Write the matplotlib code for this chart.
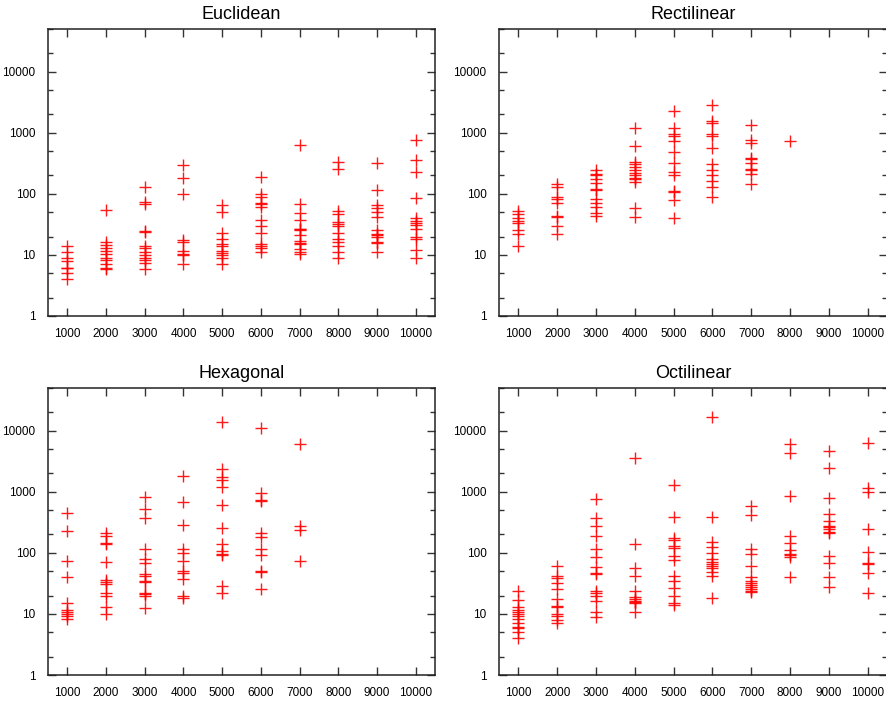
import matplotlib
matplotlib.use("Agg")
import matplotlib.pyplot as plt
from matplotlib.ticker import FixedLocator, NullFormatter

plt.rcParams['font.family'] = ['Liberation Sans', 'DejaVu Sans']

sizes = [1000, 2000, 3000, 4000, 5000, 6000, 7000, 8000, 9000, 10000]

# one list of run values per problem size (missing sizes = no runs)
euclidean = [
    [14, 11, 9, 8, 6, 6, 5, 4],
    [54, 16.5, 14.5, 13, 11.5, 10.5, 9, 8.3, 7, 6, 5.8],
    [128, 73, 68, 24.5, 23.5, 14, 13, 11, 10, 9, 8.2, 7.3, 5.8],
    [300, 180, 100, 17.5, 16, 11.5, 10.5, 10, 7],
    [66, 50, 22.5, 18, 15, 14, 11.5, 10.8, 9.8, 9, 7],
    [188, 100, 88, 72, 68, 62, 38, 30, 23, 15, 14, 13, 11],
    [620, 69, 49, 37, 27, 26.5, 25.5, 21, 17, 15.5, 15, 12.5, 11, 10.5],
    [330, 255, 52, 46, 34, 32, 30, 22.5, 18, 16, 14, 11, 9],
    [315, 115, 66, 58, 50, 42, 25.5, 22, 21.5, 20, 16, 15.5, 11],
    [750, 365, 225, 85, 40, 36, 33, 31, 27, 20, 18, 12, 8.8],
]

rectilinear = [
    [52, 47, 40, 36, 33, 25.5, 22, 14],
    [147, 131, 90, 81, 70, 44, 42, 30, 22],
    [245, 210, 200, 178, 148, 121, 115, 81, 72, 62, 49, 44],
    [1200, 600, 335, 305, 280, 245, 220, 205, 185, 172, 158, 59, 41],
    [2250, 1200, 960, 900, 740, 490, 320, 228, 205, 113, 108, 79, 40],
    [2830, 1550, 1420, 940, 890, 560, 305, 250, 200, 162, 131, 88],
    [1330, 760, 685, 390, 370, 320, 252, 245, 210, 143],
    [730],
    [],
    [],
]

hexagonal = [
    [455, 230, 74, 40, 15, 11.5, 10.8, 10, 9.3, 8.2],
    [215, 190, 145, 140, 72, 36, 33, 30.5, 22, 19.5, 13, 10],
    [830, 515, 370, 114, 80, 69, 45, 42, 35, 33, 22, 21, 19.5, 12.4],
    [1800, 670, 285, 116, 98, 74, 51, 47, 37, 20, 18],
    [13700, 2330, 1770, 1560, 1180, 610, 260, 140, 109, 96, 91, 28.5, 22],
    [11000, 940, 735, 710, 210, 180, 114, 91, 50, 48, 25.5],
    [6000, 270, 237, 73],
    [],
    [],
    [],
]

octilinear = [
    [24, 17, 13, 11.5, 10.8, 10, 9.2, 8.4, 7, 6, 5.9, 5, 4],
    [62, 42, 39, 32, 25.5, 17.5, 13.7, 12.9, 10, 9.2, 8, 7.2],
    [750, 375, 270, 190, 117, 85, 58, 47.5, 44.5, 24, 22, 20, 16, 10.8, 8.8],
    [3570, 140, 57, 41, 24, 18.7, 17.3, 16.2, 15.8, 15, 10.9],
    [1290, 390, 172, 165, 130, 119, 89, 77, 41, 35, 27, 20, 15.3, 14.2],
    [16500, 390, 150, 123, 98, 78, 72, 66, 61, 57, 49, 42, 18],
    [585, 410, 114, 96, 60, 40, 34, 32, 30, 28, 26, 24, 22.5],
    [6000, 4250, 850, 190, 145, 111, 95, 91, 85, 40],
    [4600, 2420, 780, 430, 335, 275, 262, 243, 222, 214, 89, 67, 40, 28],
    [6200, 1140, 1000, 250, 105, 69, 66, 46, 22],
]

titles = ["Euclidean", "Rectilinear", "Hexagonal", "Octilinear"]
panels = [euclidean, rectilinear, hexagonal, octilinear]

yticks = [1, 10, 100, 1000, 10000]
yminor = [m * 10 ** e for e in range(5) for m in (2, 5)]

fig = plt.figure(figsize=(8.87, 7.01), dpi=100)
W, H = 887, 701
boxes = [(48, 29, 387, 287), (499, 29, 388, 287),
         (48, 388, 387, 287), (499, 388, 388, 287)]

for (x0, y0, w, h), title, runs in zip(boxes, titles, panels):
    ax = fig.add_axes([x0 / W, 1 - (y0 + h) / H, w / W, h / H])
    xs, ys = [], []
    for n, vals in zip(sizes, runs):
        xs += [n] * len(vals)
        ys += vals
    ax.plot(xs, ys, linestyle='none', marker='+', markersize=8,
            markeredgewidth=1.0, color='red', alpha=0.9)

    ax.set_yscale('log')
    ax.set_xlim(500, 10500)
    ax.set_ylim(1, 50000)
    ax.set_xticks(sizes)
    ax.set_xticklabels([str(s) for s in sizes])
    ax.yaxis.set_major_locator(FixedLocator(yticks))
    ax.set_yticklabels([str(t) for t in yticks])
    ax.yaxis.set_minor_locator(FixedLocator(yminor))
    ax.yaxis.set_minor_formatter(NullFormatter())
    ax.xaxis.set_minor_locator(FixedLocator([]))

    ax.tick_params(which='both', direction='in', top=True, right=True,
                   labelsize=8.5, pad=9, color='#333333', width=1)
    ax.tick_params(which='major', length=6)
    ax.tick_params(which='minor', length=3.5)
    for sp in ax.spines.values():
        sp.set_linewidth(1.1)
        sp.set_color('#222222')
    ax.set_title(title, fontsize=13, pad=7)

fig.savefig("out.png", dpi=100)
